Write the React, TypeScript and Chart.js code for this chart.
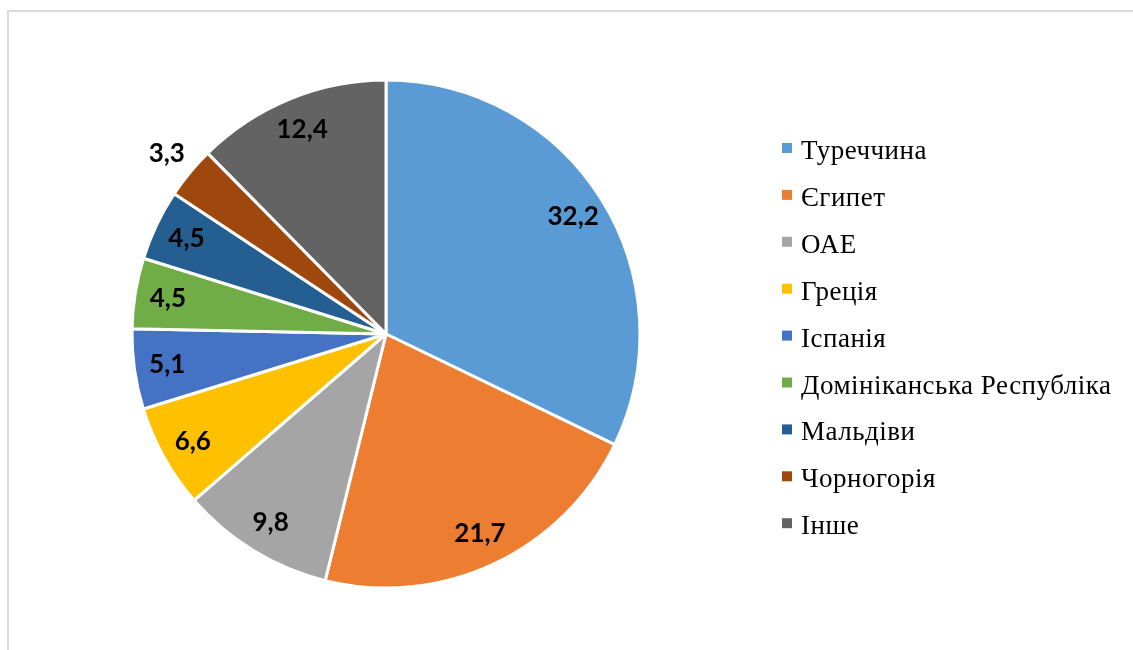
import React, { useEffect, useRef } from "react";
import { Chart, registerables } from "chart.js";

Chart.register(...registerables);

const categories = [
  "Туреччина",
  "Єгипет",
  "ОАЕ",
  "Греція",
  "Іспанія",
  "Домініканська Республіка",
  "Мальдіви",
  "Чорногорія",
  "Інше",
];
const shares = [32.2, 21.7, 9.8, 6.6, 5.1, 4.5, 4.5, 3.3, 12.4];
const colors = [
  "#5B9BD5",
  "#ED7D31",
  "#A5A5A5",
  "#FFC000",
  "#4472C4",
  "#70AD47",
  "#255E91",
  "#9E480E",
  "#636363",
];

const labelPlugin = {
  id: "sliceLabels",
  afterDatasetsDraw(chart: any) {
    const ctx = chart.ctx;
    const meta = chart.getDatasetMeta(0);
    const data = chart.data.datasets[0].data as number[];
    ctx.save();
    ctx.font = "bold 26px Lato";
    ctx.fillStyle = "#000";
    ctx.textAlign = "center";
    ctx.textBaseline = "middle";
    meta.data.forEach((arc: any, i: number) => {
      const p = arc.getProps(["x", "y", "startAngle", "endAngle", "outerRadius"], true);
      const mid = (p.startAngle + p.endAngle) / 2;
      const r = data[i] < 4 ? p.outerRadius + 30 : p.outerRadius * 0.87;
      const tx = p.x + Math.cos(mid) * r;
      const ty = p.y + Math.sin(mid) * r;
      ctx.fillText(String(data[i]).replace(".", ","), tx, ty);
    });
    ctx.restore();
  },
};

const legendPlugin = {
  id: "sideLegend",
  afterDraw(chart: any) {
    const ctx = chart.ctx;
    const labels = chart.data.labels as string[];
    const bg = chart.data.datasets[0].backgroundColor as string[];
    ctx.save();
    ctx.font = "27px 'Liberation Serif'";
    (ctx as any).letterSpacing = "0.5px";
    ctx.textAlign = "left";
    ctx.textBaseline = "alphabetic";
    labels.forEach((l, i) => {
      const y = 143 + i * 46.9;
      ctx.fillStyle = bg[i];
      ctx.fillRect(782, y, 10, 10);
      ctx.fillStyle = "#000";
      ctx.fillText(l, 801, y + 16);
    });
    ctx.restore();
  },
};

export default function App() {
  const ref = useRef<HTMLCanvasElement>(null);
  useEffect(() => {
    if (!ref.current) return;
    const chart = new Chart(ref.current, {
      type: "pie",
      data: {
        labels: categories,
        datasets: [
          {
            data: shares,
            backgroundColor: colors,
            borderColor: "#ffffff",
            borderWidth: 3,
            radius: 254,
          } as any,
        ],
      },
      options: {
        responsive: false,
        animation: false,
        layout: { padding: { left: 100, right: 461, top: 60, bottom: 42 } },
        plugins: {
          legend: { display: false },
          tooltip: { enabled: false },
        },
      },
      plugins: [labelPlugin, legendPlugin],
    });
    return () => chart.destroy();
  }, []);
  return (
    <div style={{ position: "fixed", left: 0, top: 0, width: 1133, height: 650, overflow: "hidden", background: "#fff" }}>
      <div
        style={{
          position: "absolute",
          left: 7,
          top: 10,
          width: 1300,
          height: 800,
          borderTop: "2px solid #dadada",
          borderLeft: "2px solid #dadada",
        }}
      />
      <canvas ref={ref} width={1133} height={650} style={{ position: "absolute", left: 0, top: 0 }} />
    </div>
  );
}
